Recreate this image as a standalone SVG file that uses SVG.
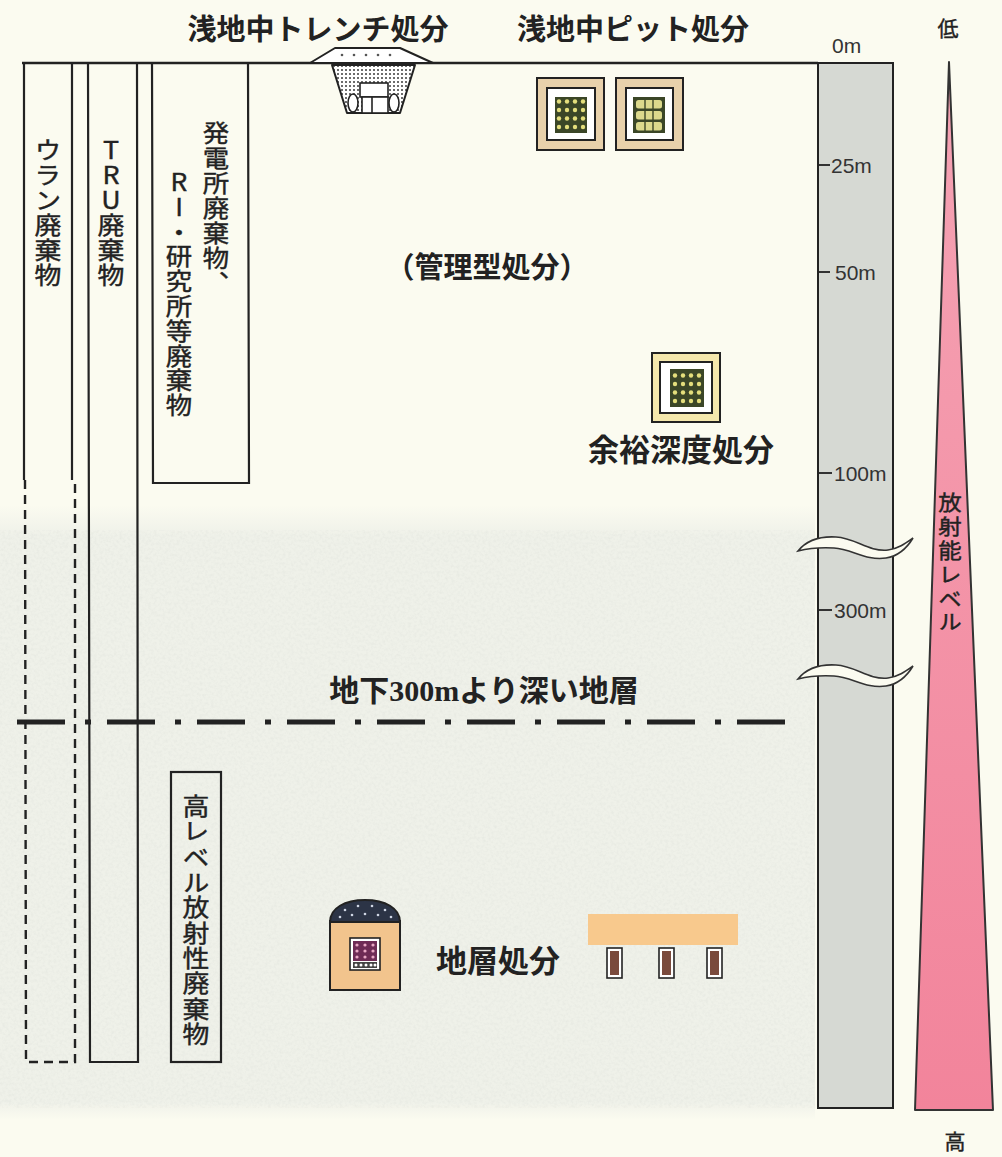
<svg xmlns="http://www.w3.org/2000/svg" width="1002" height="1157" viewBox="0 0 1002 1157">
  <style>
    .jp { font-family: "Noto Sans CJK JP", "Noto Sans", sans-serif; fill: #222; }
    .title { font-size: 29px; font-weight: 700; text-anchor: middle; }
    .vt { font-size: 24px; font-weight: 400; stroke: #222; stroke-width: 0.4px; writing-mode: vertical-rl; text-orientation: upright; }
    .vs { font-size: 21px; font-weight: 400; stroke: #222; stroke-width: 0.4px; }
    .tick { font-family: "Liberation Sans", Arial, sans-serif; font-size: 21px; fill: #333; dominant-baseline: central; }
    .ln { fill: none; stroke: #222; stroke-width: 2.2; }
    .dash { fill: none; stroke: #222; stroke-width: 2.4; stroke-dasharray: 9 6; }
    .wave { fill: #fbfbf0; stroke: #333; stroke-width: 1.6; }
    .drawn { stroke: #222; stroke-width: 2; }
  </style>
  <defs>
    <linearGradient id="bandfade" x1="0" y1="0" x2="0" y2="1">
      <stop offset="0" stop-color="#fbfbf0"/>
      <stop offset="0.05" stop-color="#eff1e9"/>
      <stop offset="0.97" stop-color="#eff1e9"/>
      <stop offset="1" stop-color="#fbfbf0"/>
    </linearGradient>
    <linearGradient id="pink" x1="0" y1="0" x2="0" y2="1">
      <stop offset="0" stop-color="#f5a3b4"/>
      <stop offset="1" stop-color="#f2849b"/>
    </linearGradient>
    <filter id="grain" x="0" y="0" width="100%" height="100%">
      <feTurbulence type="fractalNoise" baseFrequency="0.35" numOctaves="3" seed="7" result="n"/>
      <feColorMatrix in="n" type="matrix" values="0 0 0 0 0.55  0 0 0 0 0.58  0 0 0 0 0.55  1.3 0 0 0 -0.5"/>
    </filter>
    <pattern id="stipple" width="4" height="4" patternUnits="userSpaceOnUse">
      <rect width="4" height="4" fill="#fff"/>
      <circle cx="2" cy="2" r="1" fill="#3a3a3a"/>
    </pattern>
    <g id="dotgrid" fill="#e4de7c">
      <circle cx="4" cy="4.5" r="2.2"/><circle cx="12" cy="4.5" r="2.2"/><circle cx="20" cy="4.5" r="2.2"/><circle cx="28" cy="4.5" r="2.2"/>
      <circle cx="4" cy="13" r="2.2"/><circle cx="12" cy="13" r="2.2"/><circle cx="20" cy="13" r="2.2"/><circle cx="28" cy="13" r="2.2"/>
      <circle cx="4" cy="21.5" r="2.2"/><circle cx="12" cy="21.5" r="2.2"/><circle cx="20" cy="21.5" r="2.2"/><circle cx="28" cy="21.5" r="2.2"/>
      <circle cx="4" cy="30" r="2.2"/><circle cx="12" cy="30" r="2.2"/><circle cx="20" cy="30" r="2.2"/><circle cx="28" cy="30" r="2.2"/>
    </g>
    <path id="breakmark" d="M798,551 C806,541 818,536 836,537 C856,538 868,552 888,550 C898,549 906,543 913,538 C907,548 899,556 886,558 C866,561 852,549 834,548 C818,547 806,549 798,551 Z"/>
  </defs>

  <!-- paper and the deep-ground tint -->
  <rect width="1002" height="1157" fill="#fbfbf0"/>
  <rect x="0" y="505" width="815" height="615" fill="url(#bandfade)"/>
  <rect x="0" y="530" width="815" height="578" filter="url(#grain)" opacity="0.25"/>

  <!-- ground surface and depth boundary -->
  <g id="boundaries">
    <line x1="22" y1="63" x2="818" y2="63" stroke="#222" stroke-width="2.5"/>
    <line x1="17" y1="722" x2="790" y2="722" stroke="#222" stroke-width="5" stroke-dasharray="48 20 6 16"/>
  </g>

  <!-- depth scale column -->
  <g id="depth-scale">
    <rect x="818" y="63" width="75" height="1045" fill="#d6d9d3" class="drawn"/>
    <text class="tick" x="832" y="45">0m</text>
    <line x1="819" y1="165" x2="830" y2="165" stroke="#333" stroke-width="2"/>
    <text class="tick" x="831" y="165">25m</text>
    <line x1="819" y1="272" x2="830" y2="272" stroke="#333" stroke-width="2"/>
    <text class="tick" x="835" y="272">50m</text>
    <line x1="819" y1="473" x2="832" y2="473" stroke="#333" stroke-width="2"/>
    <text class="tick" x="834" y="473">100m</text>
    <line x1="819" y1="610" x2="832" y2="610" stroke="#333" stroke-width="2"/>
    <text class="tick" x="834" y="610">300m</text>
    <use href="#breakmark" class="wave"/>
    <use href="#breakmark" class="wave" transform="translate(0 128)"/>
  </g>

  <!-- radioactivity level wedge -->
  <g id="activity-scale">
    <polygon points="949,62 993,1110 915,1110" fill="url(#pink)" stroke="#333" stroke-width="2" stroke-linejoin="round"/>
    <text class="jp vs" x="948" y="36" text-anchor="middle">低</text>
    <text class="jp vs" x="955" y="1149" text-anchor="middle">高</text>
    <g transform="translate(950 0) scale(1.12 1)">
      <text class="jp vt" x="0" y="492" style="font-size:21px; letter-spacing:2.8px">放射能レベル</text>
    </g>
  </g>

  <!-- waste category columns -->
  <g id="col-uranium">
    <line class="ln" x1="24" y1="63" x2="24" y2="480"/>
    <line class="ln" x1="72" y1="63" x2="72" y2="480"/>
    <path class="dash" d="M25,480 L26,1062 L75,1062 L75,480"/>
    <g transform="translate(48 0) scale(1.12 1)">
      <text class="jp vt" x="0" y="138" style="letter-spacing:1px">ウラン廃棄物</text>
    </g>
  </g>
  <g id="col-tru">
    <path class="ln" d="M88,63 L90,1062 L138,1062 L137,63"/>
    <g transform="translate(111 0) scale(1.12 1)">
      <text class="jp vt" x="0" y="138" style="letter-spacing:1px">TRU廃棄物</text>
    </g>
  </g>
  <g id="col-lowlevel">
    <path class="ln" d="M152,63 L153,483 L249,483 L248,63"/>
    <g transform="translate(216 0) scale(1.1 1)">
      <text class="jp vt" x="0" y="121" style="letter-spacing:1px">発電所廃棄物、</text>
    </g>
    <g transform="translate(179 0) scale(1.1 1)">
      <text class="jp vt" x="0" y="170" style="letter-spacing:0.8px">RI・研究所等廃棄物</text>
    </g>
  </g>
  <g id="col-hlw">
    <rect class="ln" x="171" y="772" width="50" height="290"/>
    <g transform="translate(196 0) scale(1.12 1)">
      <text class="jp vt" x="0" y="794" style="letter-spacing:1.3px">高レベル放射性廃棄物</text>
    </g>
  </g>

  <!-- shallow trench disposal -->
  <g id="trench">
    <text class="jp title" x="318" y="40">浅地中トレンチ処分</text>
    <polygon points="310,63 335,48 400,48 433,63" fill="#fff" stroke="#222" stroke-width="2" stroke-linejoin="round"/>
    <g fill="#555">
      <circle cx="342" cy="55" r="1.3"/><circle cx="354" cy="55" r="1.3"/><circle cx="366" cy="55" r="1.3"/>
      <circle cx="378" cy="55" r="1.3"/><circle cx="390" cy="55" r="1.3"/>
    </g>
    <polygon points="332,65 415,65 400,113 347,113" fill="url(#stipple)" stroke="#222" stroke-width="2" stroke-linejoin="round"/>
    <g fill="#fff" stroke="#222" stroke-width="1.6">
      <rect x="360" y="83" width="28" height="14"/>
      <rect x="362" y="97" width="26" height="16"/>
      <line x1="372" y1="97" x2="372" y2="113"/>
      <ellipse cx="353" cy="103" rx="5" ry="9"/>
      <ellipse cx="394" cy="103" rx="5" ry="9"/>
    </g>
  </g>

  <!-- shallow pit disposal -->
  <g id="pit">
    <text class="jp title" x="633" y="40">浅地中ピット処分</text>
    <rect x="537" y="78" width="67" height="72" fill="#e8d1ab" class="drawn"/>
    <rect x="547" y="88" width="48" height="52" fill="#fff" class="drawn"/>
    <rect x="555" y="97" width="32" height="36" fill="#3b4627"/>
    <use href="#dotgrid" x="555" y="97"/>
    <rect x="616" y="78" width="67" height="72" fill="#e8d1ab" class="drawn"/>
    <rect x="626" y="88" width="47" height="52" fill="#fff" class="drawn"/>
    <rect x="633" y="97" width="32" height="36" fill="#3b4627"/>
    <g fill="#dcd98c">
      <rect x="636" y="100" width="26" height="8.5" rx="2.5"/>
      <rect x="636" y="111" width="26" height="8.5" rx="2.5"/>
      <rect x="636" y="122" width="26" height="8.5" rx="2.5"/>
    </g>
    <g stroke="#3b4627" stroke-width="1.4">
      <line x1="645" y1="99" x2="645" y2="131"/>
      <line x1="653" y1="99" x2="653" y2="131"/>
    </g>
  </g>

  <text id="label-managed" class="jp title" x="487" y="278">（管理型処分）</text>

  <!-- intermediate depth disposal -->
  <g id="intermediate">
    <rect x="652" y="353" width="68" height="69" fill="#f4e7ac" class="drawn"/>
    <rect x="660" y="362" width="52" height="51" fill="#fff" class="drawn"/>
    <rect x="670" y="369" width="34" height="38" fill="#3b4627"/>
    <use href="#dotgrid" x="671" y="371"/>
    <text class="jp title" x="681" y="461" style="font-size:31px">余裕深度処分</text>
  </g>

  <text id="label-deep" class="jp title" x="484" y="701" style="font-size:30px">地下<tspan font-family="'Liberation Serif', serif">300m</tspan>より深い地層</text>

  <!-- geological disposal -->
  <g id="geological">
    <rect x="330" y="921" width="70" height="69" fill="#f2c48d" class="drawn"/>
    <path d="M330,922 C330,908 345,900 365,900 C385,900 400,908 400,922 Z" fill="#2c3446" class="drawn"/>
    <g fill="#cfd6e4">
      <circle cx="345" cy="910" r="1.3"/><circle cx="358" cy="906" r="1.3"/><circle cx="372" cy="906" r="1.3"/>
      <circle cx="385" cy="910" r="1.3"/><circle cx="340" cy="917" r="1.3"/><circle cx="352" cy="915" r="1.3"/>
      <circle cx="365" cy="914" r="1.3"/><circle cx="378" cy="915" r="1.3"/><circle cx="391" cy="917" r="1.3"/>
    </g>
    <rect x="350" y="938" width="30" height="32" fill="#fff" stroke="#222" stroke-width="1.6"/>
    <rect x="353" y="941" width="24" height="20" fill="#6e2a55"/>
    <g fill="#e9a7c4">
      <circle cx="357" cy="945" r="1.6"/><circle cx="365" cy="945" r="1.6"/><circle cx="373" cy="945" r="1.6"/>
      <circle cx="357" cy="951" r="1.6"/><circle cx="365" cy="951" r="1.6"/><circle cx="373" cy="951" r="1.6"/>
      <circle cx="357" cy="957" r="1.6"/><circle cx="365" cy="957" r="1.6"/><circle cx="373" cy="957" r="1.6"/>
    </g>
    <rect x="353" y="962" width="24" height="6" fill="#444"/>
    <g fill="#fff">
      <circle cx="356" cy="965" r="1.5"/><circle cx="361" cy="965" r="1.5"/><circle cx="366" cy="965" r="1.5"/>
      <circle cx="371" cy="965" r="1.5"/><circle cx="375" cy="965" r="1.5"/>
    </g>
    <text class="jp title" x="498" y="972" style="font-size:31px">地層処分</text>
    <rect x="588" y="914" width="150" height="31" fill="#f8c98d"/>
    <g fill="#fff" stroke="#222" stroke-width="1.6">
      <rect x="607" y="948" width="15" height="30"/>
      <rect x="659" y="948" width="15" height="30"/>
      <rect x="707" y="948" width="15" height="30"/>
    </g>
    <g fill="#7a4a3c">
      <rect x="610" y="951" width="9" height="24"/>
      <rect x="662" y="951" width="9" height="24"/>
      <rect x="710" y="951" width="9" height="24"/>
    </g>
  </g>
</svg>
